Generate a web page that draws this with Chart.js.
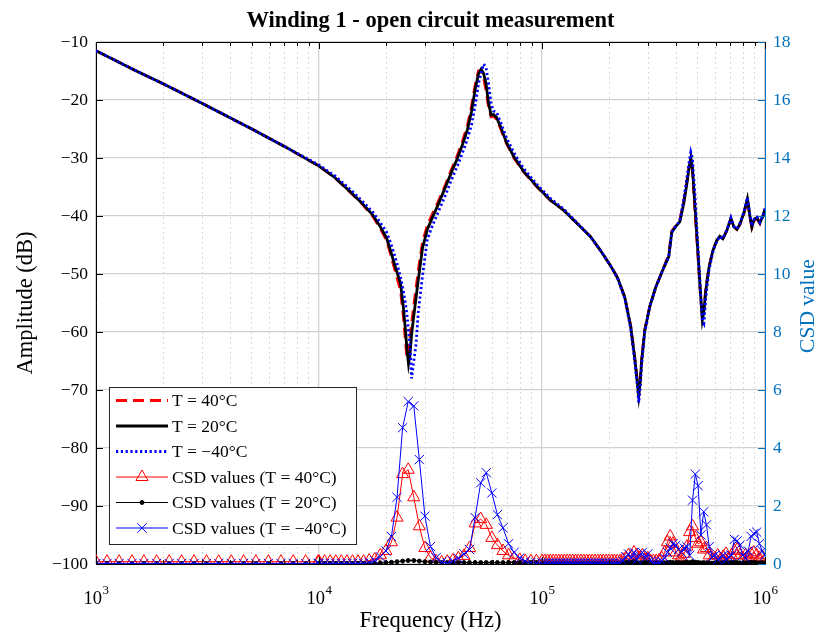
<!DOCTYPE html>
<html>
<head>
<meta charset="utf-8">
<script src="https://cdn.jsdelivr.net/npm/chart.js@4.4.1/dist/chart.umd.min.js"></script>
<style>
    html, body { margin: 0; padding: 0; background: #fff; }
    canvas { display: block; }
</style>
</head>
<body>
<canvas id="windingChart" width="822" height="635" style="width:822px;height:635px"></canvas>
<script>
// --- amplitude curves (Hz / dB) ---
const ampFreq = [1000, 1500, 2000, 3000, 5000, 7000, 10000, 11800, 13800, 15600,
    17400, 18800, 20100, 20900, 22000, 23200, 23900, 24400, 24800, 25200,
    25600, 26000, 26500, 27200, 27900, 29100, 30600, 32300, 34000, 36900,
    39700, 41800, 44000, 46300, 48300, 50300, 51900, 53300, 54700, 56100,
    57600, 59100, 60600, 62500, 65200, 69300, 74600, 82700, 95500, 109300,
    125000, 143000, 165300, 183300, 203200, 218500, 235000, 250000, 260500, 267300,
    271500, 275700, 280000, 288800, 304200, 323600, 347900, 370200, 381900, 398000,
    414800, 432400, 446100, 455400, 464900, 472200, 484500, 499800, 512900, 523600,
    531800, 542900, 560000, 583400, 608100, 627300, 647100, 674500, 703000, 725200,
    748000, 771500, 804100, 833700, 855500, 873400, 896200, 919600, 948600, 978500,
    1000000];

const amp40 = [-11.5, -14.9, -17.2, -20.6, -25.0, -28.0, -31.4, -33.4, -35.9, -37.9,
    -40.0, -42.1, -44.2, -46.5, -49.6, -52.8, -57.3, -61.5, -64.5, -63.8,
    -61.2, -58.6, -56.0, -52.6, -49.3, -44.6, -41.6, -39.6, -37.8, -34.6,
    -31.5, -29.5, -27.1, -24.4, -21.1, -17.1, -15.0, -15.0, -16.2, -18.3,
    -21.2, -22.9, -22.8, -23.3, -24.9, -27.5, -29.9, -32.4, -35.1, -37.3,
    -39.0, -41.2, -43.6, -46.0, -48.6, -50.7, -54.0, -59.0, -64.3, -68.2,
    -70.5, -68.2, -64.6, -59.7, -55.6, -52.3, -49.3, -46.6, -42.6, -41.7,
    -40.8, -37.4, -34.2, -31.8, -30.3, -32.0, -38.8, -46.5, -53.3, -57.5,
    -56.0, -52.5, -48.9, -46.0, -44.2, -43.5, -43.9, -42.5, -40.5, -42.0,
    -42.3, -41.5, -39.6, -37.2, -40.2, -42.0, -40.7, -40.4, -41.3, -40.1,
    -38.9];

const amp20 = [-11.5, -14.9, -17.2, -20.6, -25.0, -28.0, -31.4, -33.4, -35.8, -37.8,
    -39.8, -41.8, -43.8, -45.9, -48.8, -51.6, -55.8, -59.5, -63.0, -65.5,
    -63.8, -60.5, -57.8, -54.3, -50.9, -45.6, -42.3, -40.2, -38.3, -35.0,
    -32.0, -30.0, -27.7, -25.1, -22.0, -17.9, -15.5, -14.7, -15.4, -17.2,
    -20.5, -22.6, -22.5, -23.0, -24.6, -27.3, -29.7, -32.3, -35.0, -37.3,
    -39.0, -41.2, -43.6, -46.0, -48.6, -50.7, -54.0, -59.1, -64.5, -68.5,
    -71.0, -68.5, -64.8, -59.8, -55.6, -52.3, -49.3, -47.0, -42.8, -41.8,
    -41.0, -37.8, -34.5, -32.0, -30.0, -31.5, -38.0, -46.0, -53.0, -57.9,
    -56.5, -52.8, -49.0, -46.0, -44.2, -43.5, -43.9, -42.5, -40.4, -41.9,
    -42.3, -41.4, -39.5, -37.0, -40.0, -41.9, -40.5, -40.3, -41.2, -40.0,
    -38.8];

const ampMinus40 = [-11.5, -14.9, -17.2, -20.6, -25.0, -28.0, -31.2, -33.1, -35.4, -37.4,
    -39.3, -41.1, -42.8, -44.5, -47.2, -50.5, -53.0, -55.0, -57.0, -59.7,
    -62.3, -68.0, -65.5, -62.3, -56.5, -50.4, -44.0, -41.6, -39.6, -36.4,
    -33.3, -31.3, -29.1, -26.7, -24.3, -20.6, -17.2, -15.3, -13.8, -14.4,
    -17.2, -20.6, -21.9, -22.1, -23.8, -26.5, -29.0, -31.8, -34.7, -37.0,
    -38.8, -41.1, -43.6, -46.0, -48.6, -50.8, -54.2, -59.5, -65.0, -69.2,
    -72.2, -69.5, -65.5, -60.1, -55.7, -52.3, -49.3, -47.0, -42.8, -41.8,
    -40.9, -37.0, -33.5, -31.0, -29.0, -30.0, -36.0, -45.0, -52.5, -58.0,
    -58.5, -54.0, -49.5, -46.2, -44.3, -43.5, -43.9, -42.4, -40.3, -41.8,
    -42.2, -41.3, -39.3, -36.8, -39.8, -41.7, -40.4, -40.2, -41.1, -39.9,
    -38.7];

// --- CSD values (Hz / CSD), one block per decade ---
const csdFreqLow = [1000, 1120, 1270, 1450, 1640, 1870, 2130, 2420, 2750, 3130,
    3550, 4040, 4590, 5210, 5930, 6750, 7660, 8710, 9910];
const csd40Low = [0.08, 0.08, 0.08, 0.08, 0.08, 0.08, 0.08, 0.08, 0.08, 0.08,
    0.08, 0.08, 0.08, 0.08, 0.08, 0.08, 0.08, 0.08, 0.08];
const csd20Low = [0.01, 0.01, 0.01, 0.01, 0.01, 0.01, 0.01, 0.01, 0.01, 0.01,
    0.01, 0.01, 0.01, 0.01, 0.01, 0.01, 0.01, 0.01, 0.01];
const csdMinus40Low = [0.02, 0.02, 0.02, 0.02, 0.02, 0.02, 0.02, 0.02, 0.02, 0.02,
    0.02, 0.02, 0.02, 0.02, 0.02, 0.02, 0.02, 0.02, 0.02];

const csdFreqMid = [10000, 10590, 11220, 11890, 12590, 13340, 14130, 14960, 15850, 16790,
    17780, 18840, 19950, 21130, 22390, 23710, 25120, 26610, 28180, 29850,
    31620, 33500, 35480, 37580, 39810, 42170, 44670, 47320, 50120, 53090,
    56230, 59570, 63100, 66830, 70790, 74990, 79430, 84140, 89130, 94410];
const csd40Mid = [0.08, 0.08, 0.08, 0.08, 0.08, 0.08, 0.08, 0.08, 0.08, 0.12,
    0.15, 0.3, 0.45, 0.75, 1.6, 3.1, 3.25, 2.3, 1.3, 0.55,
    0.22, 0.1, 0.06, 0.08, 0.12, 0.2, 0.28, 0.55, 1.4, 1.55,
    1.35, 0.9, 0.65, 0.45, 0.3, 0.2, 0.14, 0.1, 0.1, 0.1];
const csd20Mid = [0.02, 0.02, 0.02, 0.02, 0.02, 0.02, 0.02, 0.02, 0.02, 0.02,
    0.02, 0.04, 0.05, 0.06, 0.08, 0.1, 0.12, 0.12, 0.1, 0.08,
    0.07, 0.06, 0.05, 0.05, 0.05, 0.05, 0.05, 0.05, 0.05, 0.05,
    0.05, 0.05, 0.05, 0.05, 0.05, 0.05, 0.05, 0.05, 0.05, 0.05];
const csdMinus40Mid = [0.02, 0.02, 0.02, 0.02, 0.02, 0.02, 0.02, 0.02, 0.02, 0.05,
    0.12, 0.25, 0.45, 0.95, 2.3, 4.7, 5.6, 5.45, 3.6, 1.65,
    0.6, 0.22, 0.06, 0.03, 0.1, 0.2, 0.35, 0.5, 1.6, 2.8,
    3.15, 2.45, 1.7, 1.25, 0.7, 0.4, 0.2, 0.1, 0.05, 0.03];

const csdFreqHigh = [100000, 102900, 105900, 109000, 112200, 115500, 118900, 122300, 125900, 129600,
    133400, 137300, 141300, 145400, 149600, 154000, 158500, 163100, 167900, 172800,
    177800, 183000, 188400, 193900, 199500, 205400, 211300, 217500, 223900, 230400,
    237100, 244100, 251200, 258500, 266100, 273800, 281800, 290000, 298500, 307200,
    316200, 325400, 335000, 344700, 354800, 365200, 375800, 386800, 398100, 409700,
    421700, 434000, 446700, 459700, 473200, 487000, 501200, 515800, 530900, 546400,
    562300, 578700, 595700, 613100, 631000, 649400, 668300, 687900, 707900, 728600,
    749900, 771800, 794300, 817500, 841400, 866000, 891300, 917300, 944100, 971600,
    1000000];
const csd40High = [0.1, 0.1, 0.1, 0.1, 0.1, 0.1, 0.1, 0.1, 0.1, 0.1,
    0.1, 0.1, 0.1, 0.1, 0.1, 0.1, 0.1, 0.1, 0.1, 0.1,
    0.1, 0.1, 0.1, 0.1, 0.1, 0.1, 0.1, 0.1, 0.1, 0.15,
    0.2, 0.3, 0.25, 0.4, 0.3, 0.2, 0.3, 0.15, 0.2, 0.1,
    0.1, 0.1, 0.12, 0.2, 0.4, 0.75, 0.95, 0.7, 0.4, 0.3,
    0.25, 0.35, 0.6, 1.1, 1.3, 0.9, 0.7, 0.75, 0.5, 0.55,
    0.3, 0.15, 0.2, 0.3, 0.15, 0.25, 0.35, 0.2, 0.3, 0.45,
    0.5, 0.3, 0.2, 0.3, 0.25, 0.35, 0.4, 0.3, 0.2, 0.25,
    0.15];
const csd20High = [0.01, 0.01, 0.01, 0.01, 0.01, 0.01, 0.01, 0.01, 0.01, 0.01,
    0.01, 0.01, 0.01, 0.01, 0.01, 0.01, 0.01, 0.01, 0.01, 0.01,
    0.01, 0.01, 0.01, 0.01, 0.01, 0.01, 0.01, 0.01, 0.01, 0.05,
    0.05, 0.06, 0.05, 0.08, 0.05, 0.04, 0.05, 0.06, 0.05, 0.03,
    0.03, 0.03, 0.03, 0.04, 0.04, 0.05, 0.06, 0.05, 0.04, 0.05,
    0.04, 0.05, 0.06, 0.05, 0.08, 0.06, 0.05, 0.04, 0.05, 0.04,
    0.04, 0.03, 0.04, 0.05, 0.04, 0.05, 0.06, 0.04, 0.05, 0.06,
    0.05, 0.04, 0.03, 0.04, 0.05, 0.06, 0.05, 0.04, 0.04, 0.05,
    0.03];
const csdMinus40High = [0.03, 0.03, 0.03, 0.03, 0.03, 0.03, 0.03, 0.03, 0.03, 0.03,
    0.03, 0.03, 0.03, 0.03, 0.03, 0.03, 0.03, 0.03, 0.03, 0.03,
    0.03, 0.03, 0.03, 0.03, 0.03, 0.03, 0.03, 0.03, 0.03, 0.1,
    0.25, 0.35, 0.2, 0.4, 0.15, 0.3, 0.4, 0.2, 0.35, 0.1,
    0.05, 0.03, 0.05, 0.1, 0.2, 0.4, 0.55, 0.7, 0.65, 0.5,
    0.4, 0.55, 0.6, 0.3, 2.2, 3.1, 2.7, 1.0, 1.8, 1.35,
    0.6, 0.25, 0.3, 0.15, 0.2, 0.3, 0.15, 0.25, 0.3, 0.85,
    0.8, 0.65, 0.3, 0.2, 0.45, 0.95, 1.05, 1.1, 0.7, 0.45,
    0.3];

// --- axes ---
const xTickValues = [1000, 2000, 3000, 4000, 5000, 6000, 7000, 8000, 9000,
    10000, 20000, 30000, 40000, 50000, 60000, 70000, 80000, 90000,
    100000, 200000, 300000, 400000, 500000, 600000, 700000, 800000, 900000, 1000000];
const xDecades = [1000, 10000, 100000, 1000000];
const xDecadeExp = ['3', '4', '5', '6'];

const SERIF = '"Liberation Serif", "Times New Roman", serif';
const CSD_BLUE = '#0072BD';
const GRID_MAJOR = '#d2d2d2';
const GRID_MINOR = '#cdcdcd';

const csdFreq = [...csdFreqLow, ...csdFreqMid, ...csdFreqHigh];
const toPoints = (xs, ys) => xs.map((f, i) => ({ x: f, y: ys[i] }));

const datasets = [
    {
        label: 'T = 40°C', data: toPoints(ampFreq, amp40), yAxisID: 'y',
        borderColor: '#ff0000', borderWidth: 2.8, borderDash: [11, 6], pointRadius: 0, order: 6
    },
    {
        label: 'T = 20°C', data: toPoints(ampFreq, amp20), yAxisID: 'y',
        borderColor: '#000000', borderWidth: 2.8, pointRadius: 0, order: 5
    },
    {
        label: 'T = −40°C', data: toPoints(ampFreq, ampMinus40), yAxisID: 'y',
        borderColor: '#0000ff', borderWidth: 2.8, borderDash: [2.2, 2.6], pointRadius: 0, order: 4
    },
    {
        label: 'CSD values (T = 40°C)', data: toPoints(csdFreq, [...csd40Low, ...csd40Mid, ...csd40High]), yAxisID: 'y1',
        borderColor: '#ff0000', borderWidth: 1, pointStyle: 'triangle', pointRadius: 7,
        pointBorderColor: '#ff0000', pointBackgroundColor: 'rgba(0,0,0,0)', pointBorderWidth: 1, order: 3
    },
    {
        label: 'CSD values (T = 20°C)', data: toPoints(csdFreq, [...csd20Low, ...csd20Mid, ...csd20High]), yAxisID: 'y1',
        borderColor: '#000000', borderWidth: 1, pointStyle: 'circle', pointRadius: 2,
        pointBorderColor: '#000000', pointBackgroundColor: '#000000', pointBorderWidth: 1, order: 2
    },
    {
        label: 'CSD values (T = −40°C)', data: toPoints(csdFreq, [...csdMinus40Low, ...csdMinus40Mid, ...csdMinus40High]), yAxisID: 'y1',
        borderColor: '#0000ff', borderWidth: 1, pointStyle: 'crossRot', pointRadius: 6.5,
        pointBorderColor: '#0000ff', pointBackgroundColor: 'rgba(0,0,0,0)', pointBorderWidth: 1, order: 1
    }
];

const isDecade = (v) => xDecades.includes(v);

// frame, inward ticks, exponent labels, title and legend
const decorPlugin = {
    id: 'decor',
    afterDatasetsDraw(chart) {
        const { ctx, chartArea: a, scales: { x, y, y1 } } = chart;
        ctx.save();

        ctx.strokeStyle = '#000';
        ctx.lineWidth = 1;
        ctx.beginPath();
        ctx.moveTo(a.left, a.top + 0.5);
        ctx.lineTo(a.right, a.top + 0.5);
        xTickValues.forEach((v) => {
            const px = Math.round(x.getPixelForValue(v)) + 0.5;
            const len = isDecade(v) ? 7 : 4;
            ctx.moveTo(px, a.bottom);
            ctx.lineTo(px, a.bottom - len);
            ctx.moveTo(px, a.top);
            ctx.lineTo(px, a.top + len);
        });
        y.ticks.forEach((t) => {
            const py = Math.round(y.getPixelForValue(t.value)) + 0.5;
            ctx.moveTo(a.left, py);
            ctx.lineTo(a.left + 7, py);
        });
        ctx.stroke();

        ctx.strokeStyle = CSD_BLUE;
        ctx.beginPath();
        y1.ticks.forEach((t) => {
            const py = Math.round(y1.getPixelForValue(t.value)) + 0.5;
            ctx.moveTo(a.right, py);
            ctx.lineTo(a.right - 7, py);
        });
        ctx.stroke();

        // x tick labels 10^n
        ctx.fillStyle = '#000';
        ctx.textBaseline = 'alphabetic';
        ctx.textAlign = 'left';
        xDecades.forEach((v, i) => {
            const px = x.getPixelForValue(v);
            ctx.font = `18.5px ${SERIF}`;
            const w1 = ctx.measureText('10').width;
            ctx.font = `13px ${SERIF}`;
            const w2 = ctx.measureText(xDecadeExp[i]).width;
            const start = px - (w1 + w2) / 2;
            ctx.font = `18.5px ${SERIF}`;
            ctx.fillText('10', start, 604);
            ctx.font = `13px ${SERIF}`;
            ctx.fillText(xDecadeExp[i], start + w1 + 0.5, 594);
        });

        // right axis title
        ctx.save();
        ctx.translate(808, (a.top + a.bottom) / 2 + 3);
        ctx.rotate(-Math.PI / 2);
        ctx.fillStyle = CSD_BLUE;
        ctx.font = `21.5px ${SERIF}`;
        ctx.textAlign = 'center';
        ctx.textBaseline = 'middle';
        ctx.fillText('CSD value', 0, 0);
        ctx.restore();

        // title
        ctx.fillStyle = '#000';
        ctx.font = `bold 22.5px ${SERIF}`;
        ctx.textAlign = 'center';
        ctx.textBaseline = 'alphabetic';
        ctx.fillText('Winding 1 - open circuit measurement', (a.left + a.right) / 2, 27);

        // legend
        const bx = 109.5, by = 387.5, bw = 247, bh = 157;
        ctx.fillStyle = '#fff';
        ctx.fillRect(bx, by, bw, bh);
        ctx.strokeStyle = '#262626';
        ctx.lineWidth = 1;
        ctx.setLineDash([]);
        ctx.strokeRect(bx, by, bw, bh);
        chart.data.datasets.forEach((ds, i) => {
            const ry = 400.5 + i * 25.5;
            ctx.strokeStyle = ds.borderColor;
            ctx.lineWidth = ds.borderWidth;
            ctx.setLineDash(ds.borderDash || []);
            ctx.beginPath();
            ctx.moveTo(116, ry);
            ctx.lineTo(168, ry);
            ctx.stroke();
            ctx.setLineDash([]);
            if (ds.pointRadius > 0) {
                ctx.strokeStyle = ds.pointBorderColor;
                ctx.fillStyle = ds.pointBackgroundColor;
                ctx.lineWidth = ds.pointBorderWidth;
                Chart.helpers.drawPoint(ctx, { pointStyle: ds.pointStyle, radius: ds.pointRadius, borderWidth: ds.pointBorderWidth, rotation: 0 }, 142, ry);
            }
            ctx.fillStyle = '#000';
            ctx.font = `17.5px ${SERIF}`;
            ctx.textAlign = 'left';
            ctx.textBaseline = 'middle';
            ctx.fillText(ds.label, 172, ry + 1);
        });

        ctx.restore();
    }
};

new Chart(document.getElementById('windingChart'), {
    type: 'line',
    data: { datasets },
    options: {
        responsive: false,
        animation: false,
        devicePixelRatio: 1,
        layout: { padding: { top: 42, left: 0, right: 0, bottom: 0 } },
        elements: { line: { tension: 0 } },
        plugins: {
            legend: { display: false },
            tooltip: { enabled: false },
            title: { display: false }
        },
        scales: {
            x: {
                type: 'logarithmic',
                min: 1000,
                max: 1000000,
                afterBuildTicks: (s) => { s.ticks = xTickValues.map((v) => ({ value: v })); },
                afterFit: (s) => { s.height = 635 - 564; },
                ticks: { display: false },
                grid: {
                    drawTicks: false,
                    color: (c) => (c.tick && isDecade(c.tick.value) ? GRID_MAJOR : GRID_MINOR),
                    lineWidth: (c) => (c.tick && isDecade(c.tick.value) ? 1.3 : 1)
                },
                border: {
                    color: '#000',
                    dash: (c) => (c.tick && !isDecade(c.tick.value) ? [1.5, 3.5] : [])
                },
                title: {
                    display: true,
                    text: 'Frequency (Hz)',
                    color: '#000',
                    font: { family: SERIF, size: 22.5, lineHeight: 1.2 },
                    padding: { top: 0, bottom: 0 }
                }
            },
            y: {
                position: 'left',
                min: -100,
                max: -10,
                afterFit: (s) => { s.width = 96; },
                ticks: {
                    stepSize: 10,
                    color: '#000',
                    padding: 8,
                    font: { family: SERIF, size: 17.5 },
                    callback: (v) => String(v).replace('-', '−')
                },
                grid: { drawTicks: false, color: GRID_MAJOR, lineWidth: 1.3 },
                border: { color: '#000' },
                title: {
                    display: true,
                    text: 'Amplitude (dB)',
                    color: '#000',
                    font: { family: SERIF, size: 22.5, lineHeight: 1.2 },
                    padding: { top: 13, bottom: 0 }
                }
            },
            y1: {
                position: 'right',
                min: 0,
                max: 18,
                afterFit: (s) => { s.width = 822 - 765; },
                ticks: {
                    stepSize: 2,
                    color: CSD_BLUE,
                    padding: 8,
                    font: { family: SERIF, size: 17.5 }
                },
                grid: { display: false, drawTicks: false },
                border: { color: CSD_BLUE }
            }
        }
    },
    plugins: [decorPlugin]
});
</script>
</body>
</html>
